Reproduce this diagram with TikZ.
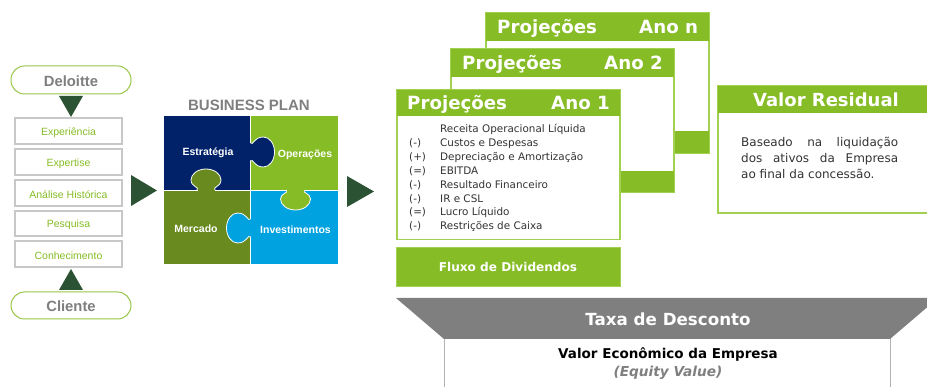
\documentclass[tikz,border=0pt]{standalone}
\usepackage{fontspec}
\setmainfont{Liberation Sans}
\newfontfamily\vd{DejaVu Sans}
\definecolor{lime}{HTML}{86BC25}
\definecolor{limeedge}{HTML}{A2D050}
\definecolor{navy}{HTML}{012169}
\definecolor{olive}{HTML}{688A1E}
\definecolor{cyanb}{HTML}{00A3E0}
\definecolor{dkgreen}{HTML}{2C5234}
\definecolor{midgrey}{HTML}{7F7F7F}
\definecolor{boxgrey}{HTML}{C8C8C8}
\definecolor{bodytext}{HTML}{333333}
\newcommand{\fs}[1]{\fontsize{#1}{#1}\selectfont}
\tikzset{
  x=1pt,y=-1pt,
  pill/.style={draw=lime!85,line width=1pt,rounded corners=13.5pt,fill=white},
  pilltext/.style={text=midgrey,font=\fs{14.8}\bfseries},
  lbox/.style={draw=boxgrey,line width=1.2pt,fill=white},
  lboxtext/.style={text=lime,font=\fs{10.5}},
  tri/.style={fill=dkgreen},
  sheet/.style={draw=limeedge,line width=1.1pt,fill=white},
  band/.style={fill=lime,draw=limeedge,line width=0.8pt},
  head/.style={text=white,font=\vd\fs{18.2}\bfseries,anchor=base west,inner sep=0pt},
  item/.style={text=bodytext,font=\vd\fs{10.4},anchor=base west,inner sep=0pt},
  piece/.style={text=white,font=\fs{10.5}\bfseries},
  sq/.style={draw=white,line width=0.8pt}
}
\newcommand{\tabshape}[8]{%
  \begin{scope}[shift={(#1,#2)},x={(#3pt,#4pt)},y={(#5pt,#6pt)}]
    \fill[#7] (-8.5,-1.5) rectangle (8.5,1.5);
    \filldraw[fill=#7,draw=white,line width=0.8pt] (-9,0) .. controls (-6,3) and (-15,3) .. (-15,#8-11) .. controls (-15,#8-5) and (-8.3,#8) .. (0,#8) .. controls (8.3,#8) and (15,#8-5) .. (15,#8-11) .. controls (15,3) and (6,3) .. (9,0);
    \fill[#7] (-8.4,-1.2) rectangle (8.4,1.6);
  \end{scope}}
\begin{document}
\begin{tikzpicture}
\useasboundingbox (0,0) rectangle (927,387);
\clip (0,0) rectangle (927,387);
% left column
\draw[pill] (11,66) rectangle (131,94);
\node[pilltext] (deloitte) at (71,81) {Deloitte};
\fill[tri] (59,96) -- (83,96) -- (71,117) -- cycle;
\foreach \n/\t/\b/\s in {exp/118/144/Experiência,xpt/149/175/Expertise,ana/180/206/Análise Histórica,pes/211/236/Pesquisa,con/241/267/Conhecimento}{
  \draw[lbox] (15,\t) rectangle (122,\b);
  \node[lboxtext] (\n) at (68.5,{(\t+\b)/2+1.5}) {\s};
}
\fill[tri] (71,269) -- (83,290) -- (59,290) -- cycle;
\draw[pill] (11,292) rectangle (131,319);
\node[pilltext] (cliente) at (71,306) {Cliente};
\fill[tri] (131,175) -- (157,190.5) -- (131,206) -- cycle;
% puzzle
\node[text=midgrey,font=\fs{15}\bfseries] (bp) at (249,105.5) {BUSINESS PLAN};
\filldraw[sq,fill=navy] (163,115) rectangle (250.5,190);
\filldraw[sq,fill=lime] (250.5,115) rectangle (338,190);
\filldraw[sq,fill=olive] (163,190) rectangle (250.5,264);
\filldraw[sq,fill=cyanb] (250.5,190) rectangle (338,264);
\tabshape{250.5}{152}{0}{1}{1}{0}{navy}{24}
\tabshape{206}{190}{1}{0}{0}{1}{olive}{21}
\tabshape{295.5}{190}{1}{0}{0}{-1}{lime}{20}
\tabshape{250.5}{228}{0}{1}{-1}{0}{cyanb}{24}
\node[piece] (est) at (208,153) {Estratégia};
\node[piece] (ope) at (305,155) {Operações};
\node[piece] (mer) at (196,229) {Mercado};
\node[piece] (inv) at (295.5,230) {Investimentos};
\fill[tri] (347,176) -- (374,191.5) -- (347,207) -- cycle;
% sheets
\draw[sheet] (486,13) rectangle (709,153);
\fill[lime] (486,13) rectangle (709,41);
\fill[lime] (620,131) rectangle (709,153);
\node[head] (pn) at (497,33.5) {Projeções};
\node[head] (an) at (639,33.5) {Ano n};
\draw[sheet] (451,49) rectangle (674,192);
\fill[lime] (451,49) rectangle (674,77);
\fill[lime] (620,171) rectangle (674,192);
\node[head] (p2) at (462,70) {Projeções};
\node[head] (a2) at (604,70) {Ano 2};
\draw[sheet] (397,90) rectangle (620,239.5);
\fill[lime] (397,90) rectangle (620,116);
\node[head] (p1) at (407,110) {Projeções};
\node[head] (a1) at (551,110) {Ano 1};
\node[item] (l0) at (440,133) {Receita Operacional Líquida};
\node[item] (s1) at (409,147) {(-)};
\node[item] (l1) at (440,147) {Custos e Despesas};
\node[item] (s2) at (409,161) {(+)};
\node[item] (l2) at (440,161) {Depreciação e Amortização};
\node[item] (s3) at (409,175) {(=)};
\node[item] (l3) at (440,175) {EBITDA};
\node[item] (s4) at (409,189) {(-)};
\node[item] (l4) at (440,189) {Resultado Financeiro};
\node[item] (s5) at (409,203) {(-)};
\node[item] (l5) at (440,203) {IR e CSL};
\node[item] (s6) at (409,216) {(=)};
\node[item] (l6) at (440,216) {Lucro Líquido};
\node[item] (s7) at (409,230) {(-)};
\node[item] (l7) at (440,230) {Restrições de Caixa};
\draw[band] (396.5,247.5) rectangle (620,286);
\node[text=white,font=\vd\fs{12.1}\bfseries] (fluxo) at (508,266.5) {Fluxo de Dividendos};
% residual
\draw[sheet] (718,86) rectangle (940,213);
\fill[lime] (718,86) rectangle (940,113);
\node[text=white,font=\vd\fs{18}\bfseries] (vr) at (826,99.5) {Valor Residual};
\node[item,font=\vd\fs{12}] (v1) at (741,147) {\makebox[157pt][s]{Baseado na liquidação}};
\node[item,font=\vd\fs{12}] (v2) at (741,163) {\makebox[157pt][s]{dos ativos da Empresa}};
\node[item,font=\vd\fs{12}] (v3) at (741,179) {ao final da concessão.};
% bottom
\draw[draw=boxgrey!70!midgrey,line width=1pt,fill=white] (444,338) -- (444,395) -- (890,395) -- (890,338);
\fill[midgrey] (396,298) -- (938,298) -- (890,339) -- (444,339) -- cycle;
\node[text=white,font=\vd\fs{16.7}\bfseries] (taxa) at (668,319) {Taxa de Desconto};
\node[text=black,font=\vd\fs{13.5}\bfseries] (valor) at (668,355) {Valor Econômico da Empresa};
\node[text=midgrey,font=\vd\fs{13.7}\bfseries\itshape] (equity) at (668,372.5) {(Equity Value)};
\end{tikzpicture}
\end{document}
